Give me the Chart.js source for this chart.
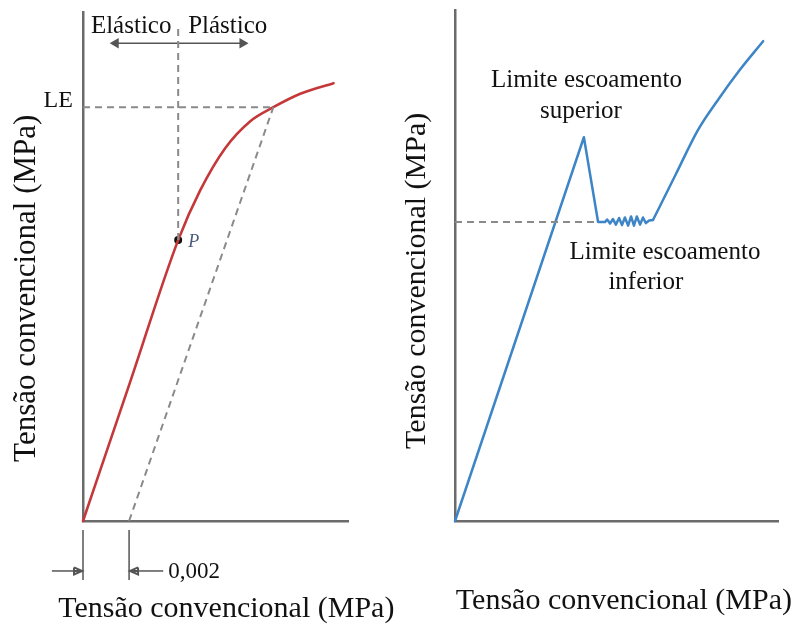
<!DOCTYPE html>
<html>
<head>
<meta charset="utf-8">
<script src="https://cdn.jsdelivr.net/npm/chart.js@4"></script>
<style>
  html, body { margin: 0; padding: 0; background: #fff; }
  #wrap { position: relative; width: 795px; height: 625px; }
  #leftBox { position: absolute; left: 0; top: 0; width: 400px; height: 625px; }
  #rightBox { position: absolute; left: 400px; top: 0; width: 395px; height: 625px; }
</style>
</head>
<body>
<div id="wrap">
  <div id="leftBox"><canvas id="leftChart" width="400" height="625"></canvas></div>
  <div id="rightBox"><canvas id="rightChart" width="395" height="625"></canvas></div>
</div>
<script>
// ---- left chart data (strain, stress) ----
const curveStrain = [0, 0.00204, 0.00413, 0.00509, 0.00617, 0.00726, 0.00826, 0.00943, 0.01087]
const curveStress = [0, 134, 271.5, 319.8, 360.4, 386.5, 400, 413.0, 423.2]
const offsetStrain = [0.002, 0.00826]
const offsetStress = [0, 400]
const leStrain = [0, 0.00826]
const leStress = [400, 400]
const pStrain = [0.00413]
const pStress = [271.5]
const splitStrain = [0.00413, 0.00413]
const splitStress = [271.5, 476]
const rangeStrain = [0.00142, 0.00692]
const rangeStress = [461.8, 461.8]
// dimension marks for the 0,002 offset (below the axis)
const tickAStrain = [0, 0]
const tickBStrain = [0.002, 0.002]
const tickStress = [-8.7, -57]
const shaftAStrain = [-0.00135, -0.0003]
const shaftBStrain = [0.00348, 0.0023]
const shaftStress = [-48.3, -48.3]
const headAStrain = [-0.00039, -0.00004, -0.00039, -0.00039, -0.00039, -0.00004]
const headBStrain = [0.00239, 0.00204, 0.00239, 0.00239, 0.00239, 0.00204]
const headStress = [-44.9, -48.3, -51.7, -44.9, -48.3, -48.3]

// ---- right chart data ----
const yieldX = [0, 39.9, 44.3, 46.4, 47.1, 48.0, 48.9, 49.8, 50.8, 51.7, 52.6, 53.6, 54.5, 55.4, 56.3, 57.3, 58.2, 59.1, 60.1, 61.3]
const yieldY = [0, 75.1, 58.5, 58.5, 59.0, 58.2, 59.1, 58.0, 59.3, 57.9, 59.4, 57.8, 59.6, 57.8, 59.6, 58.0, 59.4, 58.3, 58.8, 58.9]
const hardenX = [61.3, 68.4, 75.2, 81.4, 88.2, 95.4]
const hardenY = [58.9, 67.9, 76.5, 82.4, 88.3, 93.9]
const lowerX = [0, 44.3]
const lowerY = [58.5, 58.5]

const axisTitle = 'Tensão convencional (MPa)'
const serif = 'Liberation Serif'

// text items drawn at data coordinates
const leftTexts = [
  {text: 'Elástico', x: 0.00209, y: 471.5, size: 25, align: 'center'},
  {text: 'Plástico', x: 0.00628, y: 471.5, size: 25, align: 'center'},
  {text: 'LE', x: -0.00044, y: 400, size: 24, align: 'right'},
  {text: 'P', x: 0.00457, y: 264.7, size: 18, align: 'left', style: 'italic', color: '#4b5a7a'},
  {text: '0,002', x: 0.0037, y: -55, size: 23, align: 'left'},
  {text: axisTitle, x: 0.00622, y: -93, size: 30, align: 'center'},
  {text: axisTitle, x: -0.00209, y: 225, size: 31, align: 'center', rotate: true}
]
const rightTexts = [
  {text: 'Limite escoamento', x: 40.7, y: 84.9, size: 25, align: 'center'},
  {text: 'superior', x: 39.0, y: 78.8, size: 25, align: 'center'},
  {text: 'Limite escoamento', x: 65.0, y: 51.3, size: 25, align: 'center'},
  {text: 'inferior', x: 59.1, y: 45.4, size: 25, align: 'center'},
  {text: axisTitle, x: 52.3, y: -17.2, size: 30, align: 'center'},
  {text: axisTitle, x: -9.3, y: 47, size: 30, align: 'center', rotate: true}
]

const textPlugin = {
  id: 'texts',
  afterDraw(chart, args, opts) {
    const ctx = chart.ctx
    const xs = chart.scales.x, ys = chart.scales.y
    opts.items.forEach(t => {
      ctx.save()
      ctx.translate(xs.getPixelForValue(t.x), ys.getPixelForValue(t.y))
      if (t.rotate) ctx.rotate(-Math.PI / 2)
      ctx.font = (t.style || 'normal') + ' ' + t.size + 'px "' + serif + '"'
      ctx.fillStyle = t.color || '#111'
      ctx.textAlign = t.align
      ctx.textBaseline = 'alphabetic'
      ctx.fillText(t.text, 0, 0)
      ctx.restore()
    })
  }
}

const zip = (xs, ys) => xs.map((x, i) => ({x: x, y: ys[i]}))
const gray = '#8a8a8a'
const dark = '#555'

function line(xs, ys, color, width, extra) {
  return Object.assign({
    data: zip(xs, ys),
    borderColor: color,
    backgroundColor: color,
    borderWidth: width,
    pointRadius: 0,
    showLine: true,
    fill: false,
    clip: false,
    tension: 0
  }, extra || {})
}

function scaleOpts(min, max) {
  return {
    type: 'linear', min: min, max: max,
    grid: {display: false, drawTicks: false},
    ticks: {display: false},
    border: {display: true, color: '#6b6b6b', width: 2.5}
  }
}

function baseOptions(xMin, xMax, yMin, yMax, pad, texts) {
  return {
    responsive: false,
    animation: false,
    layout: {padding: pad},
    scales: {x: scaleOpts(xMin, xMax), y: scaleOpts(yMin, yMax)},
    plugins: {legend: {display: false}, tooltip: {enabled: false}, texts: {items: texts}}
  }
}

new Chart(document.getElementById('leftChart'), {
  type: 'scatter',
  data: {
    datasets: [
      line(offsetStrain, offsetStress, gray, 2, {borderDash: [7, 5]}),
      line(leStrain, leStress, gray, 2, {borderDash: [7, 5]}),
      line(splitStrain, splitStress, gray, 2, {borderDash: [7, 5]}),
      line(curveStrain, curveStress, '#c4383a', 2.6, {cubicInterpolationMode: 'monotone', borderCapStyle: 'round'}),
      line(pStrain, pStress, '#111', 0, {pointRadius: 4, showLine: false}),
      line(rangeStrain, rangeStress, dark, 1.5, {pointStyle: 'triangle', pointRadius: 4.5, rotation: [270, 90]}),
      line(tickAStrain, tickStress, dark, 1.5),
      line(tickBStrain, tickStress, dark, 1.5),
      line(shaftAStrain, shaftStress, dark, 1.5),
      line(shaftBStrain, shaftStress, dark, 1.5),
      line(headAStrain, headStress, dark, 2, {borderJoinStyle: 'miter'}),
      line(headBStrain, headStress, dark, 2, {borderJoinStyle: 'miter'})
    ]
  },
  options: baseOptions(0, 0.0115, 0, 492, {left: 83, right: 52, top: 12, bottom: 104}, leftTexts),
  plugins: [textPlugin]
})

new Chart(document.getElementById('rightChart'), {
  type: 'scatter',
  data: {
    datasets: [
      line(lowerX, lowerY, gray, 2, {borderDash: [7, 5]}),
      line(yieldX, yieldY, '#3d85c6', 2.5, {borderJoinStyle: 'round', borderCapStyle: 'round'}),
      line(hardenX, hardenY, '#3d85c6', 2.5, {cubicInterpolationMode: 'monotone', borderCapStyle: 'round'})
    ]
  },
  options: baseOptions(0, 100, 0, 100, {left: 55, right: 17, top: 10, bottom: 104}, rightTexts),
  plugins: [textPlugin]
})
</script>
</body>
</html>
